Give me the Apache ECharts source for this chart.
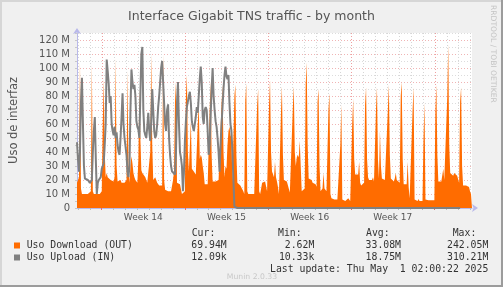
<!DOCTYPE html>
<html><head><meta charset="utf-8">
<script src="https://cdn.jsdelivr.net/npm/echarts@6/dist/echarts.min.js"></script>
<style>html,body{margin:0;padding:0;background:#f0f0f0}#c{width:503px;height:287px}</style>
</head><body><div id="c"></div>
<script>
// ---- data (values in M, one point per 2 hours, starting Fri 28 Mar 2025 22:00) ----
const titleText = 'Interface Gigabit TNS traffic - by month';
const yAxisName = 'Uso de interfaz';
const seriesNames = ['Uso Download (OUT)', 'Uso Upload (IN)'];
const weekLabels = ['Week 14', 'Week 15', 'Week 16', 'Week 17'];
const yLabels = ['0','10 M','20 M','30 M','40 M','50 M','60 M','70 M','80 M','90 M','100 M','110 M','120 M'];
const statHeaders = ['Cur:', 'Min:', 'Avg:', 'Max:'];
const downloadStats = ['69.94M', '2.62M', '33.08M', '242.05M'];
const uploadStats = ['12.09k', '10.33k', '18.75M', '310.21M'];
const lastUpdate = 'Last update: Thu May  1 02:00:22 2025';
const footer = 'Munin 2.0.33';
const watermark = 'RRDTOOL / TOBI OETIKER';
const startTime = Date.UTC(2025, 2, 28, 22);
const stepHours = 2;

const download = [
 18,
 20,22,105,14,10,10,10,10,10,9,10,10,
 10,12,103,12,10,10,10,10,9,10,10,10,
 12,60,92,40,22,25,22,21,23,20,20,19,
 19,22,107,30,19,18,19,20,18,19,18,18,
 18,20,98,30,18,30,37,32,25,22,20,19,
 18,35,85,50,27,25,26,24,22,20,18,17,
 17,40,110,45,20,19,22,20,18,17,16,16,
 15,16,110,20,13,13,13,12,13,13,12,13,
 20,26,76,90,18,17,17,17,16,10,10,10,
 12,80,95,40,26,25,62,28,27,26,25,24,
 24,60,75,35,38,36,30,25,17,17,17,17,
 17,70,90,38,19,19,19,19,20,19,20,20,
 20,74,88,40,22,30,28,45,55,58,52,50,
 19,20,80,88,38,18,17,17,16,17,15,12,
 10,77,89,12,10,10,10,10,10,10,10,10,
 10,74,85,12,10,10,18,19,17,19,18,12,
 12,74,91,40,26,25,22,33,22,19,15,10,
 10,67,87,38,20,21,20,19,20,20,11,11,
 11,71,87,40,30,36,38,36,48,30,12,12,
 12,14,88,104,45,21,22,21,20,18,17,17,
 17,15,76,85,30,12,13,14,25,14,13,12,
 12,70,82,10,7,6,6,6,6,6,6,6,
 6,45,74,6,5,5,5,5,5,7,6,5,
 5,60,78,35,24,23,25,24,33,18,16,17,
 17,18,74,86,35,22,20,21,19,20,22,19,
 18,70,86,35,21,55,30,21,22,21,20,21,
 20,70,88,38,21,20,20,19,21,25,20,19,
 19,18,80,90,35,17,18,17,17,33,15,7,
 6,6,70,86,6,5,5,5,6.5,5,5,5,
 5,50,75,6,5.5,5.5,5.5,5.5,5.5,5.5,5.5,5.5,
 5.5,69,88,38,19,19,20,19,19,28,20,19,
 19,79,117,45,25,24,24,23,25,24,24,23,
 22,18,76,86,30,16,15,15,16,17,15,15,
 12,10,10
];

const upload = [
 47,
 35,26,40,75,93,60,30,21,20,21,20,19,
 18,17,20,40,55,65,35,10,18,20,21,22,
 28,30,32,45,60,106,98,89,75,80,60,55,
 52,58,50,54,45,40,38,50,65,82,60,50,
 50,38,26,22,30,70,99,90,85,88,80,62,
 58,56,50,80,110,115,70,55,52,50,58,68,
 55,48,62,85,70,55,50,52,60,72,80,90,
 100,105,90,75,60,55,70,74,50,38,30,26,
 25,27,24,40,75,90,60,40,36,30,12,25,
 48,62,72,76,80,83,75,62,58,55,60,65,
 72,68,80,92,101,90,65,60,70,72,70,55,
 38,45,66,85,100,80,70,62,58,50,40,26,
 45,60,72,85,95,101,94,92,95,75,60,55,
 40,20,1,0.01,0.01,0.01,0.01,0.01,0.01,0.01,0.01,0.01,
 0.01,0.01,0.01,0.01,0.01,0.01,0.01,0.01,0.01,0.01,0.01,0.01,
 0.01,0.01,0.01,0.01,0.01,0.01,0.01,0.01,0.01,0.01,0.01,0.01,
 0.01,0.01,0.01,0.01,0.01,0.01,0.01,0.01,0.01,0.01,0.01,0.01,
 0.01,0.01,0.01,0.01,0.01,0.01,0.01,0.01,0.01,0.01,0.01,0.01,
 0.01,0.01,0.01,0.01,0.01,0.01,0.01,0.01,0.01,0.01,0.01,0.01,
 0.01,0.01,0.01,0.01,0.01,0.01,0.01,0.01,0.01,0.01,0.01,0.01,
 0.01,0.01,0.01,0.01,0.01,0.01,0.01,0.01,0.01,0.01,0.01,0.01,
 0.01,0.01,0.01,0.01,0.01,0.01,0.01,0.01,0.01,0.01,0.01,0.01,
 0.01,0.01,0.01,0.01,0.01,0.01,0.01,0.01,0.01,0.01,0.01,0.01,
 0.01,0.01,0.01,0.01,0.01,0.01,0.01,0.01,0.01,0.01,0.01,0.01,
 0.01,0.01,0.01,0.01,0.01,0.01,0.01,0.01,0.01,0.01,0.01,0.01,
 0.01,0.01,0.01,0.01,0.01,0.01,0.01,0.01,0.01,0.01,0.01,0.01,
 0.01,0.01,0.01,0.01,0.01,0.01,0.01,0.01,0.01,0.01,0.01,0.01,
 0.01,0.01,0.01,0.01,0.01,0.01,0.01,0.01,0.01,0.01,0.01,0.01,
 0.01,0.01,0.01,0.01,0.01,0.01,0.01,0.01,0.01,0.01,0.01,0.01,
 0.01,0.01,0.01,0.01,0.01,0.01,0.01,0.01,0.01,0.01,0.01,0.01,
 0.01,0.01,0.01,0.01,0.01,0.01,0.01,0.01,0.01,0.01,0.01,0.01,
 0.01,0.01,0.01,0.01,0.01,0.01,0.01,0.01,0.01,0.01,0.01,0.01,
 0.01,0.01,0.01
];

// ---- derived axis positions from the time base ----
const N = download.length;
const dayLines = [], mondayLines = [];
for (let i = 0; i < N; i++) {
  const d = new Date(startTime + i * stepHours * 3600000);
  if (d.getUTCHours() === 0) {
    dayLines.push(i);
    if (d.getUTCDay() === 1) mondayLines.push(i);
  }
}
const perDay = 24 / stepHours;
const weekPos = mondayLines.filter(m => m + 7 * perDay <= N).map(m => m + 3.5 * perDay);

const ORANGE = '#ff6c00', GREY = '#808080';
const AXIS = '#b9b9ea';
const mono = '"DejaVu Sans Mono", monospace';

const chart = echarts.init(document.getElementById('c'), null, {renderer: 'canvas', width: 503, height: 287});

const markData = dayLines.map(i => ({
  xAxis: i + 0.5,
  lineStyle: {color: mondayLines.includes(i) ? '#eea0a0' : '#d6d6d6', type: [1, 2], width: 1}
}));

function txt(x, y, text, align, font, fill) {
  return {type: 'text', x: x, y: y, silent: true,
    style: {text: text, font: font, fill: fill, align: align, textAlign: align, verticalAlign: 'middle', textVerticalAlign: 'middle'}};
}

const legendFont = '9.8px ' + mono;
const headX = [191.7, 278, 366, 452.7];
const valRight = [226.7, 314.3, 401, 488.3];
const graphics = [
  {type: 'line', shape: {x1: 0, y1: 1, x2: 503, y2: 1}, style: {stroke: '#d6d6d6', lineWidth: 2}, silent: true},
  {type: 'line', shape: {x1: 1, y1: 0, x2: 1, y2: 287}, style: {stroke: '#d6d6d6', lineWidth: 2}, silent: true},
  {type: 'line', shape: {x1: 0, y1: 286, x2: 503, y2: 286}, style: {stroke: '#9c9c9c', lineWidth: 2}, silent: true},
  {type: 'line', shape: {x1: 502, y1: 0, x2: 502, y2: 287}, style: {stroke: '#9c9c9c', lineWidth: 2}, silent: true},
  {type: 'text', x: 493, y: 5, rotation: -Math.PI / 2, silent: true,
   style: {text: watermark, font: '7.6px "DejaVu Sans"', fill: '#c4c4c4', align: 'left', textAlign: 'left', verticalAlign: 'middle', textVerticalAlign: 'middle'}},
  {type: 'rect', shape: {x: 14, y: 242.5, width: 6, height: 6}, style: {fill: ORANGE}, silent: true},
  {type: 'rect', shape: {x: 14, y: 254.5, width: 6, height: 6}, style: {fill: GREY}, silent: true},
  txt(26.7, 245.5, seriesNames[0], 'left', legendFont, '#333'),
  txt(26.7, 257.5, seriesNames[1], 'left', legendFont, '#333'),
  txt(488.3, 269.5, lastUpdate, 'right', legendFont, '#333'),
  txt(252, 277, footer, 'center', '7.7px "DejaVu Sans"', '#c8c8c8')
];
statHeaders.forEach((h, k) => graphics.push(txt(headX[k], 233.5, h, 'left', legendFont, '#333')));
downloadStats.forEach((s, k) => graphics.push(txt(valRight[k], 245.5, s, 'right', legendFont, '#333')));
uploadStats.forEach((s, k) => graphics.push(txt(valRight[k], 257.5, s, 'right', legendFont, '#333')));

const option = {
  animation: false,
  backgroundColor: '#f0f0f0',
  textStyle: {fontFamily: 'DejaVu Sans'},
  title: {text: titleText, left: 'center', top: 5,
    textStyle: {fontSize: 12.5, fontWeight: 'normal', color: '#555', fontFamily: 'DejaVu Sans'}},
  grid: {left: 73, top: 33, width: 399, height: 175, show: true, backgroundColor: '#ffffff', borderWidth: 0},
  xAxis: [
    {type: 'value', min: 0, max: N - 1,
     axisLine: {show: true, onZero: false, lineStyle: {color: AXIS, width: 1}, symbol: ['none', 'arrow'], symbolSize: [6, 6], symbolOffset: [0, 6]},
     axisTick: {show: true, customValues: dayLines, length: 2, lineStyle: {color: '#bdbdbd'}},
     axisLabel: {show: true, customValues: weekPos, formatter: v => {const k = weekPos.indexOf(v); return k >= 0 ? weekLabels[k] : '';},
       color: '#555', fontSize: 9, margin: 5, fontFamily: 'DejaVu Sans'},
     splitLine: {show: false}},
    {type: 'value', min: 0, max: N - 1, position: 'bottom',
     axisLine: {show: false}, axisLabel: {show: false},
     axisTick: {show: true, customValues: mondayLines, length: 2, lineStyle: {color: '#e07070'}},
     splitLine: {show: false}}
  ],
  yAxis: {type: 'value', min: 0, max: 125, interval: 5,
    axisLine: {show: true, onZero: false, lineStyle: {color: AXIS, width: 1}, symbol: ['none', 'arrow'], symbolSize: [6, 6], symbolOffset: [0, 5]},
    axisTick: {show: true, length: 2, lineStyle: {color: '#c8c8c8'}},
    axisLabel: {formatter: v => (v % 10 === 0 && v / 10 < yLabels.length) ? yLabels[v / 10] : '',
      color: '#555', fontSize: 10, margin: 7, fontFamily: 'DejaVu Sans'},
    splitLine: {show: true, lineStyle: {color: ['#f0b4b4', '#dcdcdc'], type: [1, 2], width: 1}},
    name: yAxisName, nameLocation: 'middle', nameGap: 57,
    nameTextStyle: {fontSize: 11.5, color: '#555', fontFamily: 'DejaVu Sans'}},
  series: [
    {type: 'line', name: seriesNames[0], data: download.map((v, i) => [i, v]),
     showSymbol: false, symbol: 'none', z: 3,
     lineStyle: {width: 0, opacity: 0}, areaStyle: {color: ORANGE, opacity: 1},
     emphasis: {disabled: true},
     markLine: {silent: true, symbol: ['none', 'none'], label: {show: false}, z: 1, animation: false,
       emphasis: {disabled: true}, data: markData}},
    {type: 'line', name: seriesNames[1], data: upload.map((v, i) => [i, v]),
     showSymbol: false, symbol: 'none', z: 4,
     lineStyle: {color: GREY, width: 2}, emphasis: {disabled: true}}
  ],
  graphic: graphics
};
chart.setOption(option);
</script>
</body></html>
